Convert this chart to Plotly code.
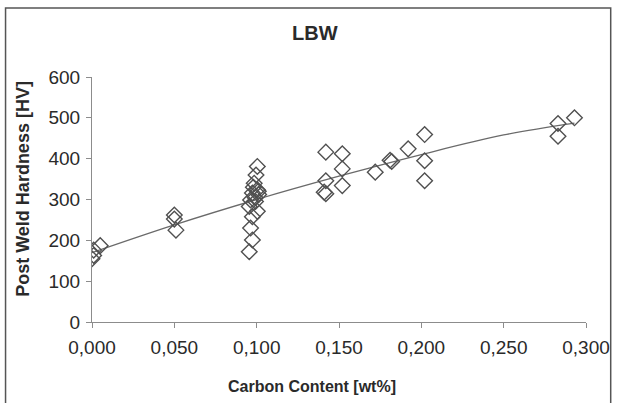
import plotly.graph_objects as go

# Scatter data
CARBON = [0.000, 0.001, 0.001, 0.005,
          0.050, 0.050, 0.051,
          0.1004, 0.0996, 0.0985, 0.1004, 0.0974, 0.1012, 0.0963, 0.0993,
          0.0955, 0.1004, 0.0974, 0.0963, 0.0974, 0.0955, 0.099, 0.101, 0.098,
          0.142, 0.142, 0.141, 0.142,
          0.152, 0.152, 0.152,
          0.172,
          0.181, 0.182,
          0.192,
          0.202, 0.202, 0.202,
          0.283, 0.283, 0.293]
HARDNESS = [155, 163, 176, 187,
            262, 252, 225,
            381, 360, 340, 324, 316, 312, 299, 295,
            283, 271, 258, 230, 201, 172, 305, 320, 330,
            416, 346, 318, 314,
            412, 375, 334,
            367,
            396, 393,
            424,
            459, 395, 346,
            486, 455, 500]

# Trend line
TREND_X = [0.000, 0.050, 0.100, 0.150, 0.200, 0.250, 0.293]
TREND_Y = [170, 238, 300, 357, 410, 458, 487]

X_TICKS = [0.0, 0.05, 0.10, 0.15, 0.20, 0.25, 0.30]
Y_TICKS = [0, 100, 200, 300, 400, 500, 600]

FONT = "Liberation Sans, Arial, sans-serif"

fig = go.Figure()
fig.add_trace(go.Scatter(
    x=TREND_X, y=TREND_Y, mode="lines", line_shape="spline",
    line=dict(color="#6a6a6a", width=1.3), showlegend=False, hoverinfo="skip"))
fig.add_trace(go.Scatter(
    x=CARBON, y=HARDNESS, mode="markers",
    marker=dict(symbol="diamond-open", size=12, color="#505050",
                line=dict(width=1.4, color="#505050")),
    showlegend=False))

axis_common = dict(showgrid=False, zeroline=False, showline=True,
                   linecolor="#8c8c8c", linewidth=1.2, ticks="outside",
                   ticklen=5, tickcolor="#8c8c8c", tickwidth=1.2,
                   tickfont=dict(family=FONT, size=19, color="#2a2a2a"))

fig.update_layout(
    width=622, height=403, autosize=False,
    margin=dict(l=92, r=28, t=77, b=81),
    paper_bgcolor="white", plot_bgcolor="white",
    separators=", ",
    xaxis=dict(range=[0, 0.3], tickvals=X_TICKS, tickformat=".3f",
               ticklabelstandoff=3, **axis_common),
    yaxis=dict(range=[0, 600], tickvals=Y_TICKS, ticklabelstandoff=2,
               **axis_common),
    annotations=[
        dict(text="<b>LBW</b>", x=0.451, y=1.18, xref="paper", yref="paper",
             showarrow=False, font=dict(family=FONT, size=20, color="#2a2a2a"),
             xanchor="center", yanchor="middle"),
        dict(text="<b>Carbon Content [wt%]</b>", x=0.446, y=-0.262,
             xref="paper", yref="paper", showarrow=False,
             font=dict(family=FONT, size=16, color="#2a2a2a"),
             xanchor="center", yanchor="middle"),
        dict(text="<b>Post Weld Hardness [HV]</b>", x=-0.139, y=0.545,
             xref="paper", yref="paper", showarrow=False, textangle=-90,
             font=dict(family=FONT, size=18, color="#2a2a2a"),
             xanchor="center", yanchor="middle"),
    ],
    shapes=[dict(type="rect", xref="paper", yref="paper",
                 x0=-0.175, x1=1.05, y0=-0.4, y1=1.282,
                 line=dict(color="#555555", width=1.5))],
)

fig.write_html("out.html")
